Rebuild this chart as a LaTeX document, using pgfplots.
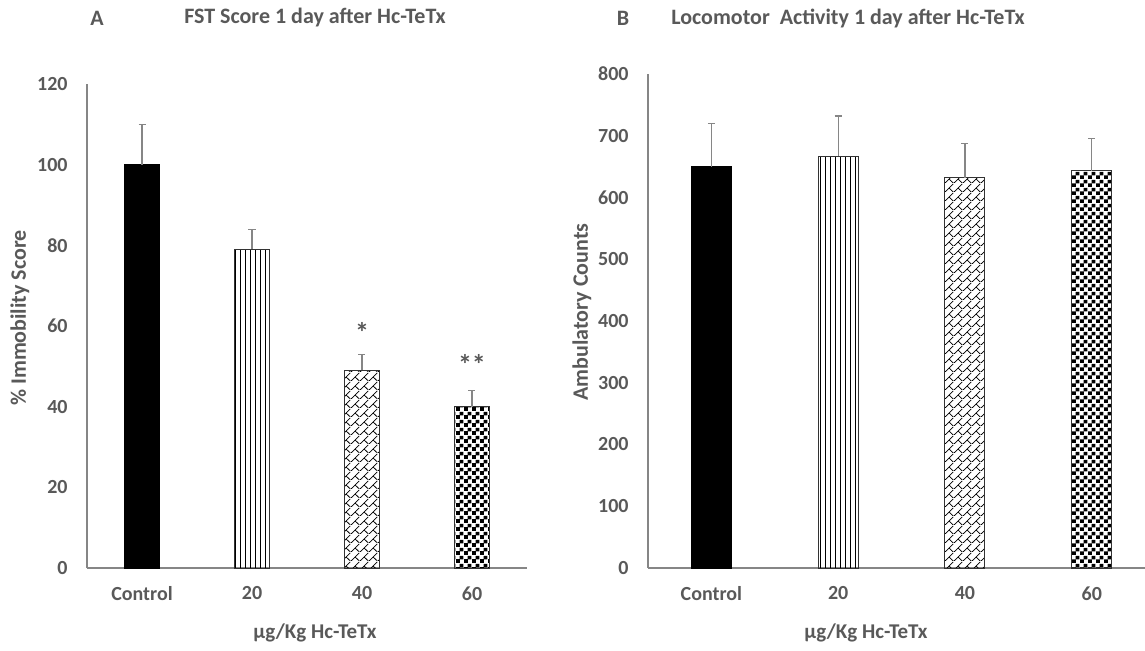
\documentclass[border=0pt]{standalone}
\usepackage{fontspec}
\setmainfont{Carlito}
\usepackage{pgfplots}
\pgfplotsset{compat=1.18}
\usetikzlibrary{patterns.meta}
\definecolor{txt}{HTML}{595959}
\definecolor{axg}{HTML}{868686}

\tikzdeclarepattern{name=checker, type=uncolored,
  bottom left={(0pt,0pt)}, top right={(4pt,4pt)}, tile size={(4pt,4pt)},
  code={\fill (0pt,0pt) rectangle (2.1pt,2.1pt); \fill (2pt,2pt) rectangle (4pt,4pt);}}
\tikzdeclarepattern{name=dbrick, type=uncolored,
  bottom left={(0pt,0pt)}, top right={(4.5pt,4.5pt)}, tile size={(4.5pt,4.5pt)},
  code={\draw[line width=0.4pt] (0pt,0pt) -- (4.5pt,4.5pt);
        \draw[line width=0.4pt] (2.25pt,2.25pt) -- (4.5pt,0pt);}}

\pgfplotsset{
  panel/.style={scale only axis, axis lines=left,
    axis line style={-, draw=axg, line width=0.7pt},
    xtick={0,1,2,3}, xticklabels={Control,20,40,60},
    major tick length=0pt, ymin=0, xmin=-0.5, clip=false,
    tick label style={font=\bfseries, text=txt, inner sep=0pt},
    yticklabel style={xshift=-9.5pt}, xticklabel style={yshift=-9pt},
    /pgf/number format/assume math mode=true, ybar},
  eb/.style={ybar, bar shift=0pt, line width=0.5pt,
    error bars/.cd, y dir=plus, y explicit,
    error bar style={draw=axg, line width=0.6pt},
    error mark options={rotate=90, draw=axg, mark size=1.75pt, line width=0.6pt}}
}

\begin{document}
\begin{tikzpicture}
\path[use as bounding box] (0,0) rectangle (572.5pt,325pt);

% A: FST score
\begin{axis}[panel, at={(43.5pt,41pt)}, anchor=south west,
  width=220pt, height=242pt, xmax=3.5, ymax=120, ytick={0,20,...,120},
  bar width=17.5pt]
\addplot[fill=black, draw=black, eb] coordinates {(0,100) +- (0,10)};
\addplot[pattern={Lines[angle=90, distance=2.5pt, line width=0.5pt]}, draw=black!80, eb] coordinates {(1,79) +- (0,5)};
\addplot[pattern=dbrick, draw=black!80, eb] coordinates {(2,49) +- (0,4)};
\addplot[pattern=checker, draw=black!80, eb] coordinates {(3,40) +- (0,4)};
\node[font=\fontsize{14}{16}\selectfont\bfseries, text=txt] at (axis cs:2,58.5) {*};
\node[font=\fontsize{14}{16}\selectfont\bfseries, text=txt] at (axis cs:3,50.5) {**};
\end{axis}

% B: locomotor activity
\begin{axis}[panel, at={(324pt,41pt)}, anchor=south west,
  width=248.5pt, height=247pt, xmax=3.42, ymax=800, ytick={0,100,...,800},
  bar width=20pt]
\addplot[fill=black, draw=black, eb] coordinates {(0,650) +- (0,70)};
\addplot[pattern={Lines[angle=90, distance=2.5pt, line width=0.5pt]}, draw=black!80, eb] coordinates {(1,667) +- (0,65)};
\addplot[pattern=dbrick, draw=black!80, eb] coordinates {(2,632) +- (0,56)};
\addplot[pattern=checker, draw=black!80, eb] coordinates {(3,643) +- (0,53)};
\end{axis}

\begin{scope}[every node/.style={font=\fontsize{11}{13}\selectfont\bfseries, text=txt}]
\node at (48.5pt,316pt) {A};
\node at (157.5pt,316pt) {FST Score 1 day after Hc-TeTx};
\node at (311.5pt,316pt) {B};
\node at (424pt,316pt) {Locomotor\ \ Activity 1 day after Hc-TeTx};
\node[font=\fontsize{10.5}{13}\selectfont\bfseries] at (157.5pt,8.5pt) {µg/Kg Hc-TeTx};
\node[font=\fontsize{10.5}{13}\selectfont\bfseries] at (433pt,8.5pt) {µg/Kg Hc-TeTx};
\node[rotate=90] at (10pt,166pt) {\% Immobility Score};
\node[rotate=90] at (291pt,169pt) {Ambulatory Counts};
\end{scope}
\end{tikzpicture}
\end{document}
